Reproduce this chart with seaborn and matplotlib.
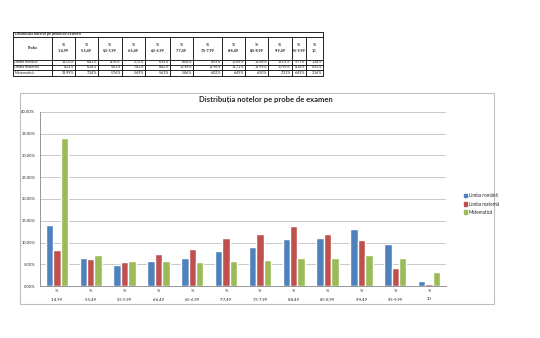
import matplotlib
matplotlib.use("Agg")
import matplotlib.pyplot as plt
import seaborn as sns
import pandas as pd
import numpy as np
from matplotlib.patches import Rectangle

categories = ["1-4,99", "5-5,49", "5,5-5,99", "6-6,49", "6,5-6,99", "7-7,49",
              "7,5-7,99", "8-8,49", "8,5-8,99", "9-9,49", "9,5-9,99", "10"]
series_names = ["Limba română", "Limba maternă", "Matematică"]
romana = [14.03, 6.42, 4.76, 5.72, 6.35, 8.08, 8.93, 10.69, 11.06, 13.01, 9.71, 1.24]
materna = [8.23, 6.28, 5.61, 7.42, 8.42, 10.98, 11.96, 13.72, 11.99, 10.59, 4.18, 0.52]
matematica = [33.99, 7.24, 5.76, 5.69, 5.61, 5.86, 6.02, 6.49, 6.50, 7.21, 6.49, 3.16]
colors = ["#4F81BD", "#C0504D", "#9BBB59"]
title = "Distribuția notelor pe probe de examen"

sns.set_style("white")
plt.rcParams['font.family'] = ['Lato', 'DejaVu Sans']

labels = ["%\n" + c for c in categories]
df = pd.DataFrame({
    "cat": labels * 3,
    "Proba": sum([[n] * len(categories) for n in series_names], []),
    "val": romana + materna + matematica,
})

fig = plt.figure(figsize=(5.4, 3.38), dpi=100)

# background axes in pixel coordinates for table and chart frame
bg = fig.add_axes([0, 0, 1, 1], zorder=0)
bg.set_xlim(0, 540)
bg.set_ylim(338, 0)
bg.axis("off")

# chart frame
bg.add_patch(Rectangle((20, 93), 474, 211, fill=False, edgecolor="#BFBFBF", linewidth=0.8))

# ---- table ----
col_edges = [13, 52, 75, 98, 121.7, 145, 170, 193.3, 221.7, 245, 268, 291.7, 306, 323]
row_edges = [31.7, 37, 59.5, 64.8, 70.2, 75.5]
lw = 0.6
tfs = 2.7
bg.plot([13, 323, 323, 13, 13], [31.7, 31.7, 75.5, 75.5, 31.7], color="black", lw=lw)
for y in row_edges[1:-1]:
    bg.plot([13, 323], [y, y], color="black", lw=lw)
for x in col_edges[1:-1]:
    bg.plot([x, x], [37, 75.5], color="black", lw=lw)
bg.text(15, 34.4, title, fontsize=tfs, fontweight="bold", va="center", ha="left")
bg.text((13 + 52) / 2, 48, "Proba", fontsize=tfs, fontweight="bold", va="center", ha="center")
for i, c in enumerate(categories):
    xc = (col_edges[i + 1] + col_edges[i + 2]) / 2
    bg.text(xc, 48, "%\n" + c, fontsize=tfs, fontweight="bold", va="center",
            ha="center", linespacing=1.4)
for r, (name, vals) in enumerate(zip(series_names, [romana, materna, matematica])):
    yc = (row_edges[r + 2] + row_edges[r + 3]) / 2
    bg.text(14.5, yc, name, fontsize=tfs, va="center", ha="left")
    for i, v in enumerate(vals):
        bg.text(col_edges[i + 2] - 1, yc, f"{v:.2f}%", fontsize=tfs, va="center", ha="right")

# ---- chart ----
ax = fig.add_axes([40 / 540, 1 - 286 / 338, 406 / 540, 174 / 338], zorder=1)
ax.patch.set_alpha(0)
sns.barplot(data=df, x="cat", y="val", hue="Proba", palette=colors, width=0.66,
            gap=0, ax=ax, legend=False, saturation=1)
ax.set_ylim(0, 40)
ax.set_xlim(-0.5, len(categories) - 0.5)
ax.set_yticks(np.arange(0, 41, 5))
ax.set_yticklabels([f"{v:.2f}%" for v in np.arange(0, 41, 5)], fontsize=3)
ax.tick_params(axis="x", labelsize=3, length=0, pad=2.5)
ax.tick_params(axis="y", length=2, pad=1.5, color="#868686", width=0.5)
ax.set_xticks(range(len(categories)))
ax.set_xticks(np.arange(-0.5, len(categories), 1), minor=True)
ax.tick_params(axis="x", which="minor", length=2, color="#868686", width=0.5)
for lab in ax.get_xticklabels():
    lab.set_linespacing(2.2)
ax.set_xlabel("")
ax.set_ylabel("")
ax.yaxis.grid(True, color="#BFBFBF", linewidth=0.6)
ax.set_axisbelow(True)
for s in ["top", "right"]:
    ax.spines[s].set_visible(False)
for s in ["left", "bottom"]:
    ax.spines[s].set_color("#868686")
    ax.spines[s].set_linewidth(0.6)

fig.text(265.5 / 540, 1 - 100 / 338, title, fontsize=5.5, fontweight="bold",
         ha="center", va="center")

handles = [Rectangle((0, 0), 1, 1, color=c) for c in colors]
fig.legend(handles, series_names, loc="center left",
           bbox_to_anchor=(464 / 540, 1 - 204 / 338), frameon=False, fontsize=3.3,
           handlelength=0.7, handleheight=0.7, handletextpad=0.3, labelspacing=0.7,
           borderaxespad=0, borderpad=0)

fig.savefig("out.png", dpi=100)
